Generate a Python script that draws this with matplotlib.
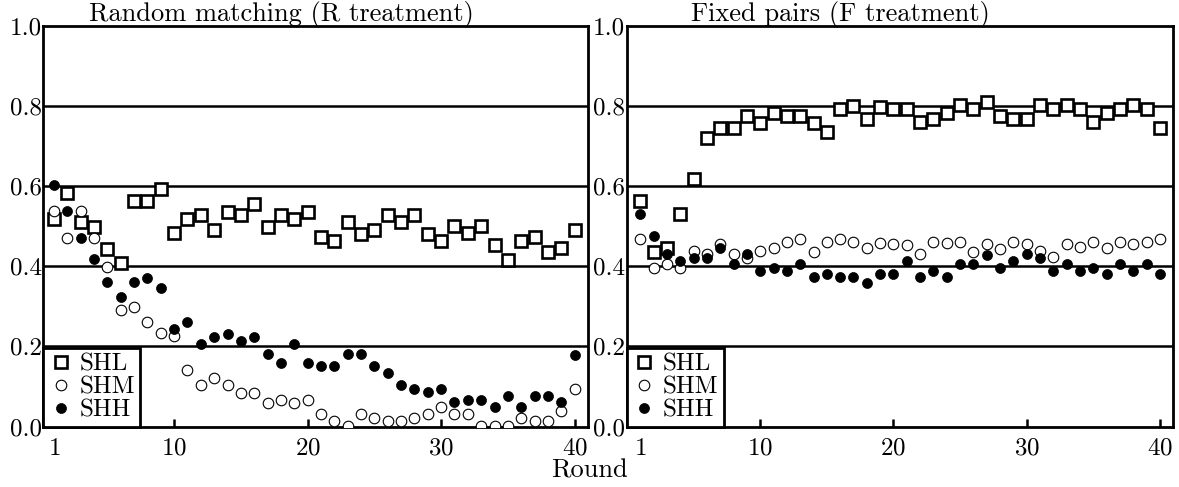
import numpy as np
import matplotlib
matplotlib.use("Agg")
import matplotlib.pyplot as plt

plt.rcParams['font.family'] = ['cmr10', 'DejaVu Serif']
plt.rcParams['axes.formatter.use_mathtext'] = True

rounds = np.arange(1, 41)

# Random matching (R treatment)
r_shl = [0.518, 0.582, 0.510, 0.499, 0.444, 0.409, 0.563, 0.563, 0.593, 0.482,
         0.518, 0.528, 0.491, 0.536, 0.528, 0.556, 0.499, 0.528, 0.518, 0.536,
         0.472, 0.464, 0.510, 0.481, 0.491, 0.528, 0.510, 0.528, 0.481, 0.464,
         0.501, 0.484, 0.501, 0.453, 0.416, 0.464, 0.472, 0.436, 0.445, 0.491]
r_shm = [0.538, 0.471, 0.538, 0.471, 0.399, 0.291, 0.299, 0.262, 0.233, 0.226,
         0.141, 0.104, 0.122, 0.104, 0.084, 0.084, 0.059, 0.066, 0.059, 0.066,
         0.031, 0.014, 0.002, 0.031, 0.022, 0.014, 0.014, 0.022, 0.031, 0.049,
         0.031, 0.031, 0.002, 0.002, 0.002, 0.022, 0.014, 0.014, 0.039, 0.094]
r_shh = [0.603, 0.538, 0.471, 0.419, 0.361, 0.324, 0.361, 0.372, 0.346, 0.243,
         0.261, 0.205, 0.224, 0.231, 0.214, 0.224, 0.180, 0.159, 0.205, 0.159,
         0.152, 0.151, 0.180, 0.180, 0.151, 0.133, 0.104, 0.094, 0.085, 0.094,
         0.060, 0.066, 0.066, 0.049, 0.077, 0.049, 0.077, 0.077, 0.060, 0.179]

# Fixed pairs (F treatment)
f_shl = [0.563, 0.436, 0.445, 0.531, 0.618, 0.721, 0.745, 0.745, 0.776, 0.759,
         0.784, 0.776, 0.776, 0.759, 0.736, 0.792, 0.800, 0.768, 0.797, 0.792,
         0.792, 0.761, 0.769, 0.784, 0.803, 0.792, 0.811, 0.776, 0.768, 0.768,
         0.803, 0.792, 0.803, 0.792, 0.761, 0.784, 0.792, 0.803, 0.792, 0.746]
f_shm = [0.468, 0.397, 0.405, 0.397, 0.438, 0.431, 0.456, 0.430, 0.421, 0.438,
         0.445, 0.461, 0.468, 0.436, 0.461, 0.468, 0.461, 0.445, 0.459, 0.456,
         0.453, 0.431, 0.461, 0.457, 0.461, 0.436, 0.456, 0.443, 0.461, 0.456,
         0.439, 0.422, 0.456, 0.449, 0.461, 0.445, 0.461, 0.456, 0.461, 0.467]
f_shh = [0.531, 0.476, 0.430, 0.413, 0.421, 0.421, 0.445, 0.405, 0.430, 0.388,
         0.395, 0.389, 0.405, 0.373, 0.381, 0.373, 0.373, 0.359, 0.382, 0.382,
         0.414, 0.374, 0.389, 0.374, 0.405, 0.405, 0.428, 0.397, 0.414, 0.431,
         0.420, 0.389, 0.405, 0.389, 0.397, 0.382, 0.405, 0.389, 0.405, 0.382]

x_ticks = [1, 10, 20, 30, 40]
y_ticks = [0.0, 0.2, 0.4, 0.6, 0.8, 1.0]

fig = plt.figure(figsize=(11.79, 4.87), dpi=100)
ax_r = fig.add_axes([0.0367, 0.1242, 0.4620, 0.8224])
ax_f = fig.add_axes([0.5315, 0.1242, 0.4632, 0.8224])


def draw_panel(ax, shl, shm, shh, title, title_x, xlim):
    for y in y_ticks[1:-1]:
        ax.axhline(y, color='black', lw=1.8, zorder=1)
    ax.plot(rounds, shl, ls='none', marker='s', ms=9.2, mfc='white',
            mec='black', mew=1.9, label='SHL', zorder=3)
    ax.plot(rounds, shm, ls='none', marker='o', ms=7.6, mfc='white',
            mec='black', mew=0.8, label='SHM', zorder=3)
    ax.plot(rounds, shh, ls='none', marker='o', ms=7.2, mfc='black',
            mec='black', mew=0.5, label='SHH', zorder=4)
    ax.set_xlim(*xlim)
    ax.set_ylim(0, 1.0)
    ax.set_xticks(x_ticks)
    ax.set_yticks(y_ticks)
    ax.set_yticklabels(['%.1f' % v for v in y_ticks])
    ax.tick_params(axis='x', direction='in', length=6, width=1.8,
                   labelsize=18, pad=8)
    ax.tick_params(axis='y', length=0, labelsize=18, pad=1)
    for sp in ax.spines.values():
        sp.set_linewidth(2.0)
    ax.text(title_x, 0.995, title, transform=ax.transAxes, ha='center',
            va='bottom', fontsize=19)
    leg = ax.legend(loc='lower left', borderaxespad=0, fancybox=False,
                    fontsize=18, handletextpad=0.25, handlelength=1.0,
                    borderpad=0.2, labelspacing=0.02, framealpha=1)
    leg.get_frame().set_edgecolor('black')
    leg.get_frame().set_linewidth(2.0)
    leg.set_zorder(5)


draw_panel(ax_r, r_shl, r_shm, r_shh, 'Random matching (R treatment)',
           0.437, (0.2, 41.0))
draw_panel(ax_f, f_shl, f_shm, f_shh, 'Fixed pairs (F treatment)',
           0.392, (-0.03, 40.97))

fig.text(0.5, 0.01, 'Round', ha='center', va='bottom', fontsize=19)

fig.savefig('out.png', dpi=100)
